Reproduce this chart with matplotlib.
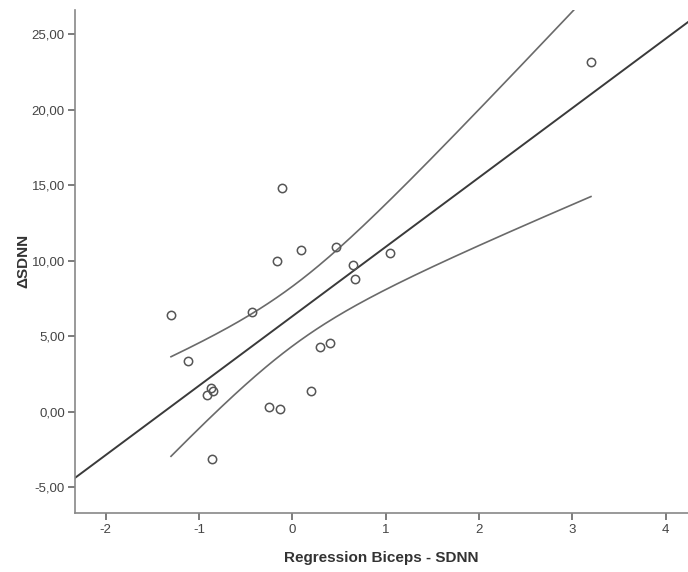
import numpy as np
import matplotlib
matplotlib.use("Agg")
import matplotlib.pyplot as plt
from matplotlib.ticker import FuncFormatter

plt.rcParams['font.family'] = ['Liberation Sans', 'DejaVu Sans']
plt.rcParams['axes.unicode_minus'] = False

# Data
x_vals = [3.20, -0.11, 0.09, 0.47, -0.16, 1.05, 0.65, 0.67, -1.30, -0.43,
          -1.12, 0.30, 0.40, -0.87, -0.85, -0.91, 0.20, -0.25, -0.13, -0.86]
y_vals = [23.2, 14.8, 10.7, 10.9, 10.0, 10.5, 9.7, 8.8, 6.4, 6.6,
          3.4, 4.3, 4.6, 1.6, 1.4, 1.15, 1.4, 0.35, 0.2, -3.1]
x_ticks = [-2, -1, 0, 1, 2, 3, 4]
y_ticks = [-5, 0, 5, 10, 15, 20, 25]
t_crit = 2.101  # df = 18, 95 %

x = np.array(x_vals)
y = np.array(y_vals)
n = len(x)
b, a = np.polyfit(x, y, 1)
resid = y - (a + b * x)
s = np.sqrt(np.sum(resid**2) / (n - 2))
sxx = np.sum((x - x.mean())**2)

fig = plt.figure(figsize=(6.88, 5.72), dpi=100)
ax = fig.add_axes([0.1083, 0.1037, 0.8917, 0.8788])
xlim = (-2.334, 4.24)
ylim = (-6.67, 26.62)
ax.set_xlim(*xlim)
ax.set_ylim(*ylim)

xl = np.linspace(xlim[0], xlim[1], 200)
ax.plot(xl, a + b * xl, color='#3a3a3a', lw=1.4, zorder=2)

xc = np.linspace(x.min(), x.max(), 200)
half = t_crit * s * np.sqrt(1 / n + (xc - x.mean())**2 / sxx)
ax.plot(xc, a + b * xc + half, color='#6a6a6a', lw=1.2, zorder=2)
ax.plot(xc, a + b * xc - half, color='#6a6a6a', lw=1.2, zorder=2)

ax.plot(x, y, 'o', mfc='none', mec='#555555', ms=6, mew=1.1, zorder=3,
        clip_on=False)

for sp in ['top', 'right']:
    ax.spines[sp].set_visible(False)
for sp in ['left', 'bottom']:
    ax.spines[sp].set_color('#888888')
    ax.spines[sp].set_linewidth(1.2)

ax.set_xticks(x_ticks)
ax.set_yticks(y_ticks)
ax.yaxis.set_major_formatter(FuncFormatter(lambda v, p: f"{v:.2f}".replace('.', ',')))
ax.tick_params(direction='out', length=5, width=1.2, color='#666666',
               labelsize=9.5, labelcolor='#444444', pad=2)
ax.tick_params(axis='x', pad=3)

ax.set_xlabel('Regression Biceps - SDNN', fontsize=11, fontweight='bold',
              color='#333333', labelpad=11)
ax.set_ylabel('ΔSDNN', fontsize=11, fontweight='bold', color='#333333',
              labelpad=1)

fig.savefig('out.png', dpi=100)
